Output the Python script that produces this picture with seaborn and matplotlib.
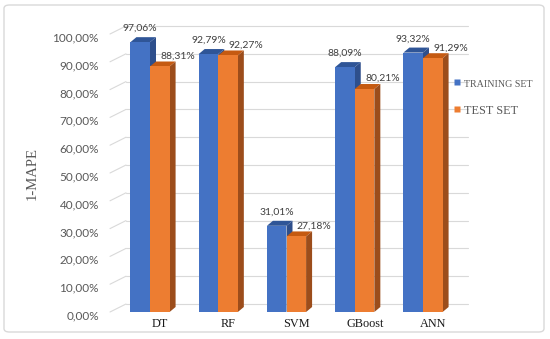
import pandas as pd
import seaborn as sns
import matplotlib.pyplot as plt
from matplotlib.patches import Polygon, FancyBboxPatch
from matplotlib.lines import Line2D
from matplotlib import transforms

# values (1-MAPE, in %)
models = ["DT", "RF", "SVM", "GBoost", "ANN"]
training = [97.06, 92.79, 31.01, 88.09, 93.32]
test = [88.31, 92.27, 27.18, 80.21, 91.29]
series = ["TRAINING SET", "TEST SET"]
yticks = [0, 10, 20, 30, 40, 50, 60, 70, 80, 90, 100]

df = pd.DataFrame({
    "model": models * 2,
    "score": training + test,
    "set": [series[0]] * len(models) + [series[1]] * len(models),
})

front = ["#4472C4", "#ED7D31"]
top_col = ["#2F5597", "#C55A11"]
side_col = ["#2E4F8C", "#9C4D1B"]
grey = "#595959"

sns.set_theme(style="white")
plt.rcParams["font.family"] = ["Lato", "DejaVu Sans"]

W, H = 550, 339
fig = plt.figure(figsize=(W / 100, H / 100), dpi=100)
ax_l, ax_r, ax_b, ax_t = 110, 468, 312, 34
ax = fig.add_axes([ax_l / W, 1 - ax_b / H, (ax_r - ax_l) / W, (ax_b - ax_t) / H])

sns.barplot(data=df, x="model", y="score", hue="set", palette=front,
            width=0.574, gap=0, saturation=1, legend=False, ax=ax)

step = 68.25  # px per category
px_y = (ax_b - ax_t) / 100.0  # px per % unit
ax.set_xlim(-(150 - ax_l) / step, (ax_r - 150) / step)
ax.set_ylim(0, 100)

# 3D depth of bars
dx, dy = 6 / step, 5 / px_y
n = len(models)
for i, p in enumerate(ax.patches):
    s = i // n
    x0, w, h = p.get_x(), p.get_width(), p.get_height()
    p.set_zorder(3 + 2 * s)
    p.set_edgecolor("none")
    topf = Polygon([(x0, h), (x0 + w, h), (x0 + w + dx, h + dy), (x0 + dx, h + dy)],
                   closed=True, facecolor=top_col[s], edgecolor="none", zorder=2.5 + 2 * s)
    sidef = Polygon([(x0 + w, 0), (x0 + w + dx, dy), (x0 + w + dx, h + dy), (x0 + w, h)],
                    closed=True, facecolor=side_col[s], edgecolor="none", zorder=2.5 + 2 * s)
    ax.add_patch(topf)
    ax.add_patch(sidef)
    lab = f"{h:.2f}%".replace(".", ",")
    if s == 0:
        off = (0, 13.5 * 0.72)
    else:
        off = (18 * 0.72, 10.5 * 0.72)
    ax.annotate(lab, (x0 + w / 2, h), xytext=off, textcoords="offset points",
                ha="center", va="center", fontsize=7.5, color="#404040", zorder=10)

# back-wall gridlines with slanted left edge
bx = 16 / (ax_r - ax_l)
by = 8 / px_y
yt = ax.get_yaxis_transform()
for v in yticks:
    ax.add_line(Line2D([0, bx], [v, v + by], transform=yt, color="#D9D9D9",
                       lw=0.8, zorder=1, clip_on=False))
    ax.add_line(Line2D([bx, 1], [v + by, v + by], transform=yt, color="#D9D9D9",
                       lw=0.8, zorder=1, clip_on=False))

ax.set_yticks(yticks)
ax.set_yticklabels([f"{v:.2f}%".replace(".", ",") for v in yticks])
ax.tick_params(axis="y", length=0, pad=8, labelsize=8.5, labelcolor=grey)
shift_y = transforms.ScaledTranslation(0, -3 / 100, fig.dpi_scale_trans)
for t in ax.get_yticklabels():
    t.set_transform(t.get_transform() + shift_y)

ax.set_xticks(range(n))
ax.set_xticklabels(models, fontfamily="Liberation Serif", fontsize=8.8, color="#1A1A1A")
ax.tick_params(axis="x", length=0, pad=4)
shift_x = transforms.ScaledTranslation(10 / 100, 0, fig.dpi_scale_trans)
for t in ax.get_xticklabels():
    t.set_transform(t.get_transform() + shift_x)

ax.set_xlabel("")
ax.set_ylabel("")
fig.text(32 / W, 1 - 173 / H, "1-MAPE", rotation=90, ha="center", va="center",
         fontfamily="Liberation Serif", fontsize=10.6, color=grey)

for sp in ax.spines.values():
    sp.set_visible(False)
ax.patch.set_alpha(0)

# legend
handles = [Line2D([], [], marker="s", linestyle="none", markersize=5,
                  markerfacecolor=c, markeredgecolor="none") for c in front]
leg = fig.legend(handles, series, loc="center left", bbox_to_anchor=(446 / W, 1 - 97 / H),
                 frameon=False, handlelength=0.6, handletextpad=0.15, labelspacing=0.95,
                 borderaxespad=0)
for t, fs in zip(leg.get_texts(), [7.2, 8.8]):
    t.set_fontfamily("Liberation Serif")
    t.set_fontsize(fs)
    t.set_color(grey)

# outer frame
fig.patches.append(FancyBboxPatch((4 / W, 1 - 332 / H), 540 / W, 327 / H,
                                  boxstyle="round,pad=0,rounding_size=0.01",
                                  transform=fig.transFigure, fill=False,
                                  edgecolor="#D9D9D9", lw=1))

fig.savefig("out.png", dpi=100)
